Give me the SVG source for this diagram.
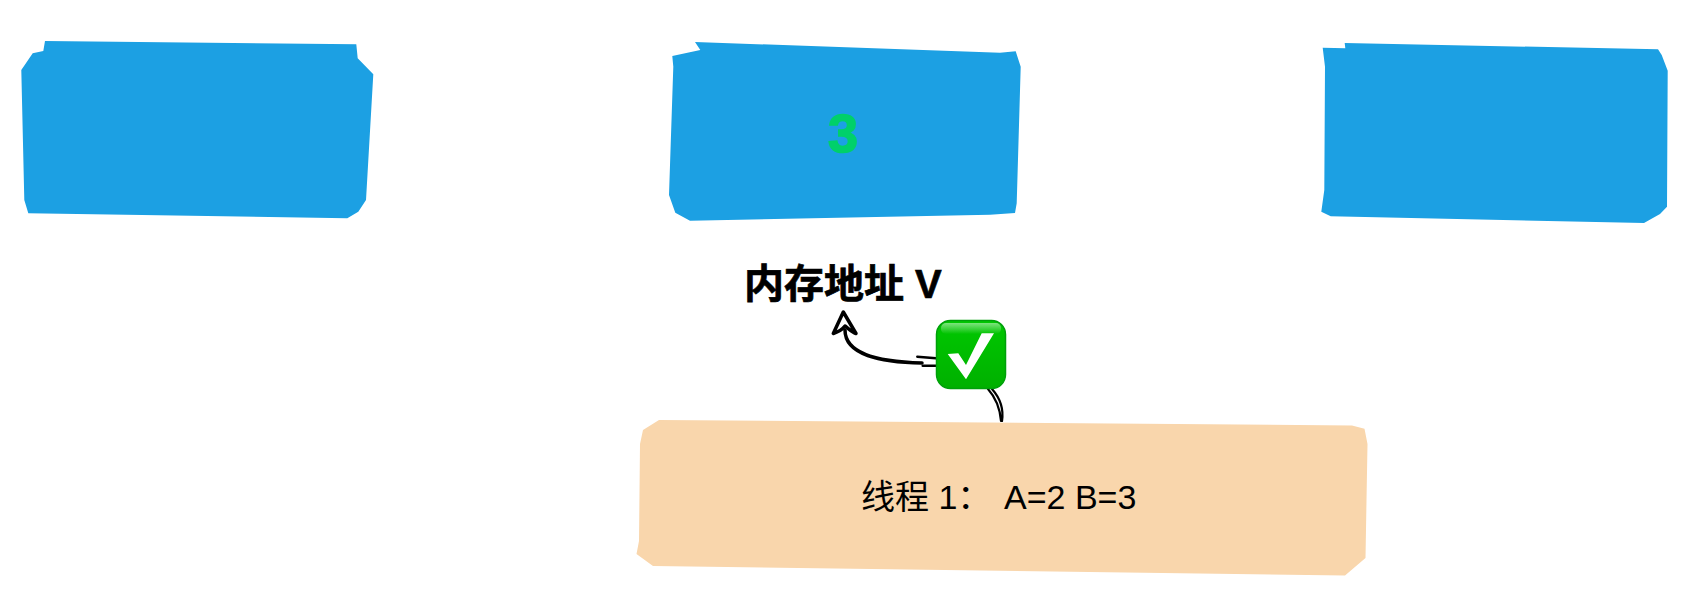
<svg xmlns="http://www.w3.org/2000/svg" width="1706" height="608" viewBox="0 0 1706 608">
<style>
.blue{fill:#1ca0e3}
.peach{fill:#f9d6ac}
.ink{fill:none;stroke:#000;stroke-linecap:round;stroke-linejoin:round}
text{font-family:"Liberation Sans","Noto Sans CJK SC",sans-serif;fill:#000}
.title{font-size:40px;font-weight:700;stroke:#000;stroke-width:.7px}
.val{font-size:54px;font-weight:700;fill:#00d06a;stroke:#00d06a;stroke-width:1.6px}
.label{font-size:34px}
</style>
<defs>
<linearGradient id="tick" x1="0" y1="0" x2="0" y2="1">
<stop offset="0" stop-color="#00c800"/>
<stop offset="1" stop-color="#00b000"/>
</linearGradient>
<linearGradient id="gloss" x1="0" y1="0" x2="0" y2="1">
<stop offset="0" stop-color="#a8eca8" stop-opacity=".75"/>
<stop offset="1" stop-color="#a8eca8" stop-opacity="0"/>
</linearGradient>
</defs>
<rect width="1706" height="608" fill="#fff"/>
<g id="cell-1">
<polygon class="blue" points="45,41 356.3,44.3 357.7,58.3 373.3,74.3 366,200 358.3,211.7 347.3,218.3 28.3,213.3 24.3,200 21.3,70 32.7,53.3 43.3,51"/>
</g>
<g id="cell-2">
<polygon class="blue" points="695,42 1000,52.7 1015.7,51.3 1020.7,66.7 1016.7,203.3 1015,213 990,214.7 690,220.7 675.3,212.7 669,195 673.3,66.7 672.3,56 700.3,50"/>
<text class="val" x="843" y="152" text-anchor="middle">3</text>
</g>
<g id="cell-3">
<polygon class="blue" points="1344.7,43 1658,49.3 1661.7,55 1667.7,70.7 1667,206.7 1660,214 1644,223 1330.7,216.3 1321.3,211.7 1324.3,190 1325,66.7 1322.7,47.7 1345.3,48.3"/>
</g>
<g id="address-label">
<text class="title" x="744" y="298">内存地址 V</text>
</g>
<g id="thread-1">
<polygon class="peach" points="659,420 1352,425.4 1364.5,428.7 1367.5,444 1365.5,558 1345,575.6 653,566 636.5,554 639,541 640,444 643,430"/>
<text class="label" x="861" y="509">线程 1：<tspan x="1004">A=2 B=3</tspan></text>
</g>
<g id="connectors">
<path class="ink" stroke-width="3.5" d="M922,363C880,362 845,355 845,330"/>
<path class="ink" stroke-width="2.5" d="M917.3,356.7L936,358.3M922.7,365.7L936,365.7"/>
<path class="ink" stroke-width="3.5" d="M843.3,312L833.3,333.5C838,332 842,330 845,326C849,329 852,332 856,333.5Z"/>
<path class="ink" stroke-width="2.2" d="M988,389C996,398 1000,408 1001,421M992,389C1000,398 1004,408 1002,421"/>
</g>
<g id="check-mark">
<rect x="936.5" y="320.5" width="69" height="68" rx="14" fill="url(#tick)" stroke="#00a00a" stroke-width="1.5"/>
<rect x="941" y="323" width="60" height="11" rx="5" fill="url(#gloss)"/>
<polygon points="947.7,354 958.3,353.3 966,365 981.7,333.3 994,333.3 966,379.3" fill="#fff"/>
</g>
</svg>
